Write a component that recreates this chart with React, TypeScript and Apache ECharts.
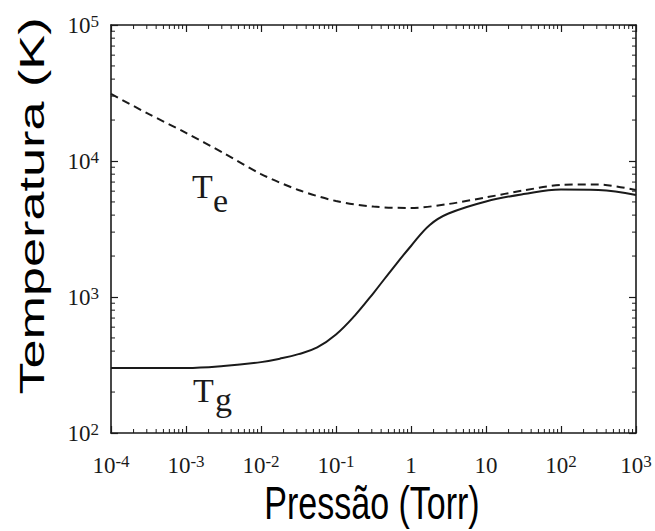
import React, { useEffect, useRef } from "react";
import * as echarts from "echarts";

// Electron temperature (dashed)
const pressureTe = [1e-4, 3.16e-4, 1e-3, 3.16e-3, 1e-2, 3.16e-2, 0.1, 0.316, 1, 3.16, 10, 31.6, 100, 316, 1000];
const te = [31100, 22200, 16100, 11450, 8020, 6120, 5080, 4620, 4510, 4830, 5400, 6070, 6670, 6720, 6120];

// Gas temperature (solid)
const pressureTg = [1e-4, 3.16e-4, 1e-3, 3.16e-3, 1e-2, 1.78e-2, 3.16e-2, 5.62e-2, 0.1, 0.178, 0.316, 0.562, 1, 1.78, 3.16, 10, 31.6, 100, 316, 1000];
const tg = [301, 301, 301, 311, 332, 352, 380, 426, 530, 730, 1070, 1606, 2372, 3383, 4108, 5040, 5710, 6170, 6120, 5620];

// Tick labels
const xLabelBase = ["10", "10", "10", "10", "1", "10", "10", "10"];
const xLabelExp = ["-4", "-3", "-2", "-1", "", "", "2", "3"];
const yLabelBase = ["10", "10", "10", "10"];
const yLabelExp = ["2", "3", "4", "5"];

// Minor tick multipliers and decades
const minorMult = [2, 3, 4, 5, 6, 7, 8, 9];
const xDecades = [1e-4, 1e-3, 1e-2, 1e-1, 1, 10, 100];
const yDecades = [100, 1000, 10000];

const X_MIN = 1e-4, X_MAX = 1e3, Y_MIN = 1e2, Y_MAX = 1e5;
const INK = "#1a1a1a";
const SERIF = "Liberation Serif";
const SANS = "Liberation Sans";

function makeRich() {
  return {
    base: { fontFamily: SERIF, fontSize: 23, lineHeight: 24, padding: [5, 0, 0, 0], verticalAlign: "bottom", color: INK },
    sup: { fontFamily: SERIF, fontSize: 17, lineHeight: 16, verticalAlign: "top", color: INK },
  };
}

function fmt(base: string, exp: string) {
  return exp ? `{base|${base}}{sup|${exp}}` : `{base|${base}}`;
}

export default function App() {
  const ref = useRef<HTMLDivElement>(null);
  useEffect(() => {
    document.body.style.margin = "0";
    if (!ref.current) return;
    const chart = echarts.init(ref.current, null, { renderer: "svg" });
    const xMinor = xDecades.flatMap((d) => minorMult.map((m) => [m * d, 1000]));
    const yMinor = yDecades.flatMap((d) => minorMult.map((m) => [1, m * d]));

    const axisCommon = {
      type: "log",
      logBase: 10,
      interval: 1,
      axisLine: { show: true, onZero: false, lineStyle: { color: INK, width: 1.6 } },
      axisTick: { show: true, inside: true, length: 7, lineStyle: { color: INK, width: 1.2 } },
      splitLine: { show: false },
    };

    chart.setOption({
      animation: false,
      backgroundColor: "#fff",
      grid: { left: 111, right: 19, top: 25, bottom: 98, containLabel: false },
      xAxis: [
        {
          ...axisCommon,
          min: X_MIN,
          max: X_MAX,
          position: "bottom",
          axisLabel: {
            show: true,
            margin: 20,
            fontFamily: SERIF,
            fontSize: 23,
            color: INK,
            rich: makeRich(),
            showMinLabel: true,
            showMaxLabel: true,
            formatter: (v: number) => {
              const i = Math.round(Math.log10(v)) + 4;
              return fmt(xLabelBase[i], xLabelExp[i]);
            },
          },
        },
        { ...axisCommon, min: X_MIN, max: X_MAX, position: "top", axisLabel: { show: false } },
      ],
      yAxis: [
        {
          ...axisCommon,
          min: Y_MIN,
          max: Y_MAX,
          position: "left",
          axisLabel: {
            show: true,
            margin: 12,
            fontFamily: SERIF,
            fontSize: 23,
            color: INK,
            rich: makeRich(),
            showMinLabel: true,
            showMaxLabel: true,
            formatter: (v: number) => {
              const i = Math.round(Math.log10(v)) - 2;
              return fmt(yLabelBase[i], yLabelExp[i]);
            },
          },
        },
        { ...axisCommon, min: Y_MIN, max: Y_MAX, position: "right", axisLabel: { show: false } },
      ],
      series: [
        {
          name: "Te",
          type: "line",
          data: pressureTe.map((p, i) => [p, te[i]]),
          smooth: 0.3,
          symbol: "none",
          lineStyle: { color: INK, width: 2, type: [8, 5] },
        },
        {
          name: "Tg",
          type: "line",
          data: pressureTg.map((p, i) => [p, tg[i]]),
          smooth: 0.4,
          symbol: "none",
          lineStyle: { color: INK, width: 2 },
        },
        {
          type: "custom",
          silent: true,
          clip: false,
          data: xMinor,
          encode: { x: 0, y: 1 },
          renderItem: (params: any, api: any) => {
            const v = api.value(0);
            const b = api.coord([v, Y_MIN]);
            const t = api.coord([v, Y_MAX]);
            const st = { stroke: INK, lineWidth: 1 };
            return {
              type: "group",
              children: [
                { type: "line", shape: { x1: b[0], y1: b[1], x2: b[0], y2: b[1] - 4 }, style: st },
                { type: "line", shape: { x1: t[0], y1: t[1], x2: t[0], y2: t[1] + 4 }, style: st },
              ],
            };
          },
        },
        {
          type: "custom",
          silent: true,
          clip: false,
          data: yMinor,
          encode: { x: 0, y: 1 },
          renderItem: (params: any, api: any) => {
            const v = api.value(1);
            const l = api.coord([X_MIN, v]);
            const r = api.coord([X_MAX, v]);
            const st = { stroke: INK, lineWidth: 1 };
            return {
              type: "group",
              children: [
                { type: "line", shape: { x1: l[0], y1: l[1], x2: l[0] + 4, y2: l[1] }, style: st },
                { type: "line", shape: { x1: r[0], y1: r[1], x2: r[0] - 4, y2: r[1] }, style: st },
              ],
            };
          },
        },
      ],
      graphic: [
        { type: "text", x: 192, y: 186.5, style: { text: "T", fontSize: 34, fontFamily: SERIF, fill: INK, align: "left", verticalAlign: "middle" } },
        { type: "text", x: 213, y: 200.5, style: { text: "e", fontSize: 34, fontFamily: SERIF, fill: INK, align: "left", verticalAlign: "middle" } },
        { type: "text", x: 193, y: 390.5, style: { text: "T", fontSize: 34, fontFamily: SERIF, fill: INK, align: "left", verticalAlign: "middle" } },
        { type: "text", x: 215, y: 399, style: { text: "g", fontSize: 34, fontFamily: SERIF, fill: INK, align: "left", verticalAlign: "middle" } },
        {
          type: "text",
          x: 372,
          y: 503,
          scaleY: 1.35,
          style: { text: "Pressão (Torr)", fontSize: 34, fontFamily: SANS, fill: "#000", align: "center", verticalAlign: "middle" },
        },
        {
          type: "text",
          x: 32,
          y: 206,
          rotation: Math.PI / 2,
          scaleX: 1.45,
          style: { text: "Temperatura (K)", fontSize: 36, fontFamily: SANS, fill: "#000", align: "center", verticalAlign: "middle" },
        },
      ],
    });
    return () => chart.dispose();
  }, []);
  return <div ref={ref} style={{ position: "absolute", left: 0, top: 0, width: 655, height: 531 }} />;
}
